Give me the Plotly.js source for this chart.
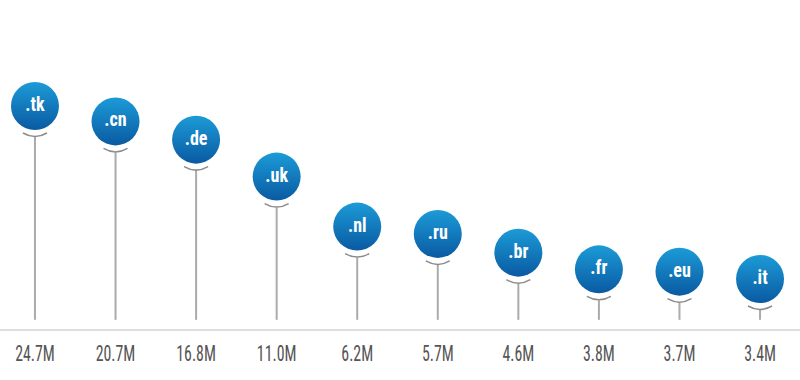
<!DOCTYPE html>
<html>
<head>
<meta charset="utf-8">
<script src="https://cdn.plot.ly/plotly-3.0.1.min.js"></script>
<style>html,body{margin:0;padding:0;background:#fff;}#chart{width:800px;height:380px;}</style>
</head>
<body>
<div id="chart"></div>
<script>
const domains = [".tk", ".cn", ".de", ".uk", ".nl", ".ru", ".br", ".fr", ".eu", ".it"];
const registrations = [24.7, 20.7, 16.8, 11.0, 6.2, 5.7, 4.6, 3.8, 3.7, 3.4];
const valueLabels = ["24.7M", "20.7M", "16.8M", "11.0M", "6.2M", "5.7M", "4.6M", "3.8M", "3.7M", "3.4M"];
const stemBase = 2.13;

const idx = domains.map((d, i) => i);
const FONT = '"Roboto Condensed", "Liberation Sans Narrow", "DejaVu Sans Condensed", Roboto, sans-serif';

const stems = {
  x: idx, y: registrations, type: 'scatter', mode: 'markers',
  marker: {size: 2, opacity: 0},
  error_y: {type: 'data', symmetric: false,
    array: registrations.map(() => 0),
    arrayminus: registrations.map(v => v - stemBase),
    color: '#a9aca8', thickness: 2, width: 0},
  hoverinfo: 'skip', showlegend: false
};
const whiteDisc = {
  x: idx, y: registrations, type: 'scatter', mode: 'markers',
  marker: {size: 62, color: '#ffffff'}, hoverinfo: 'skip', showlegend: false
};
const bubbles = {
  x: idx, y: registrations, type: 'scatter', mode: 'markers+text',
  marker: {size: 48, color: '#1c9bd7', line: {width: 0},
    gradient: {type: 'vertical', color: '#0a5aa2'}},
  text: domains, textposition: 'middle center',
  textfont: {family: FONT, size: 20, color: '#ffffff', weight: 'bold'},
  hoverinfo: 'skip', showlegend: false
};

const arcShapes = registrations.map((v, i) => ({
  type: 'path', layer: 'above', xref: 'x', yref: 'y',
  xsizemode: 'pixel', ysizemode: 'pixel', xanchor: i, yanchor: v,
  path: 'M -12 -27 Q 0 -34 12 -27',
  line: {color: '#8c8c8c', width: 1.5}
}));

const layout = {
  width: 800, height: 380,
  margin: {l: 0, r: 0, t: 0, b: 51},
  paper_bgcolor: '#ffffff', plot_bgcolor: '#ffffff',
  showlegend: false,
  shapes: arcShapes,
  xaxis: {range: [-0.434, 9.496], tickvals: idx, ticktext: valueLabels,
    showgrid: false, zeroline: false, showline: true, linecolor: '#dedede', linewidth: 2,
    ticks: 'outside', ticklen: 4, tickcolor: 'rgba(0,0,0,0)',
    tickfont: {family: FONT, size: 22, color: '#555555'}, fixedrange: true},
  yaxis: {type: 'log', range: [0.2827, 1.9203], visible: false, showgrid: false, zeroline: false, fixedrange: true}
};

function condense(selector, factor) {
  document.querySelectorAll(selector).forEach(t => {
    const w = t.getComputedTextLength();
    if (w > 0) {
      t.setAttribute('textLength', (w * factor).toFixed(1));
      t.setAttribute('lengthAdjust', 'spacingAndGlyphs');
    }
  });
}

Plotly.newPlot('chart', [stems, whiteDisc, bubbles], layout, {displayModeBar: false, staticPlot: true})
  .then(() => {
    condense('#chart .xtick text', 0.72);
    condense('#chart .textpoint text', 0.9);
  });
</script>
</body>
</html>
